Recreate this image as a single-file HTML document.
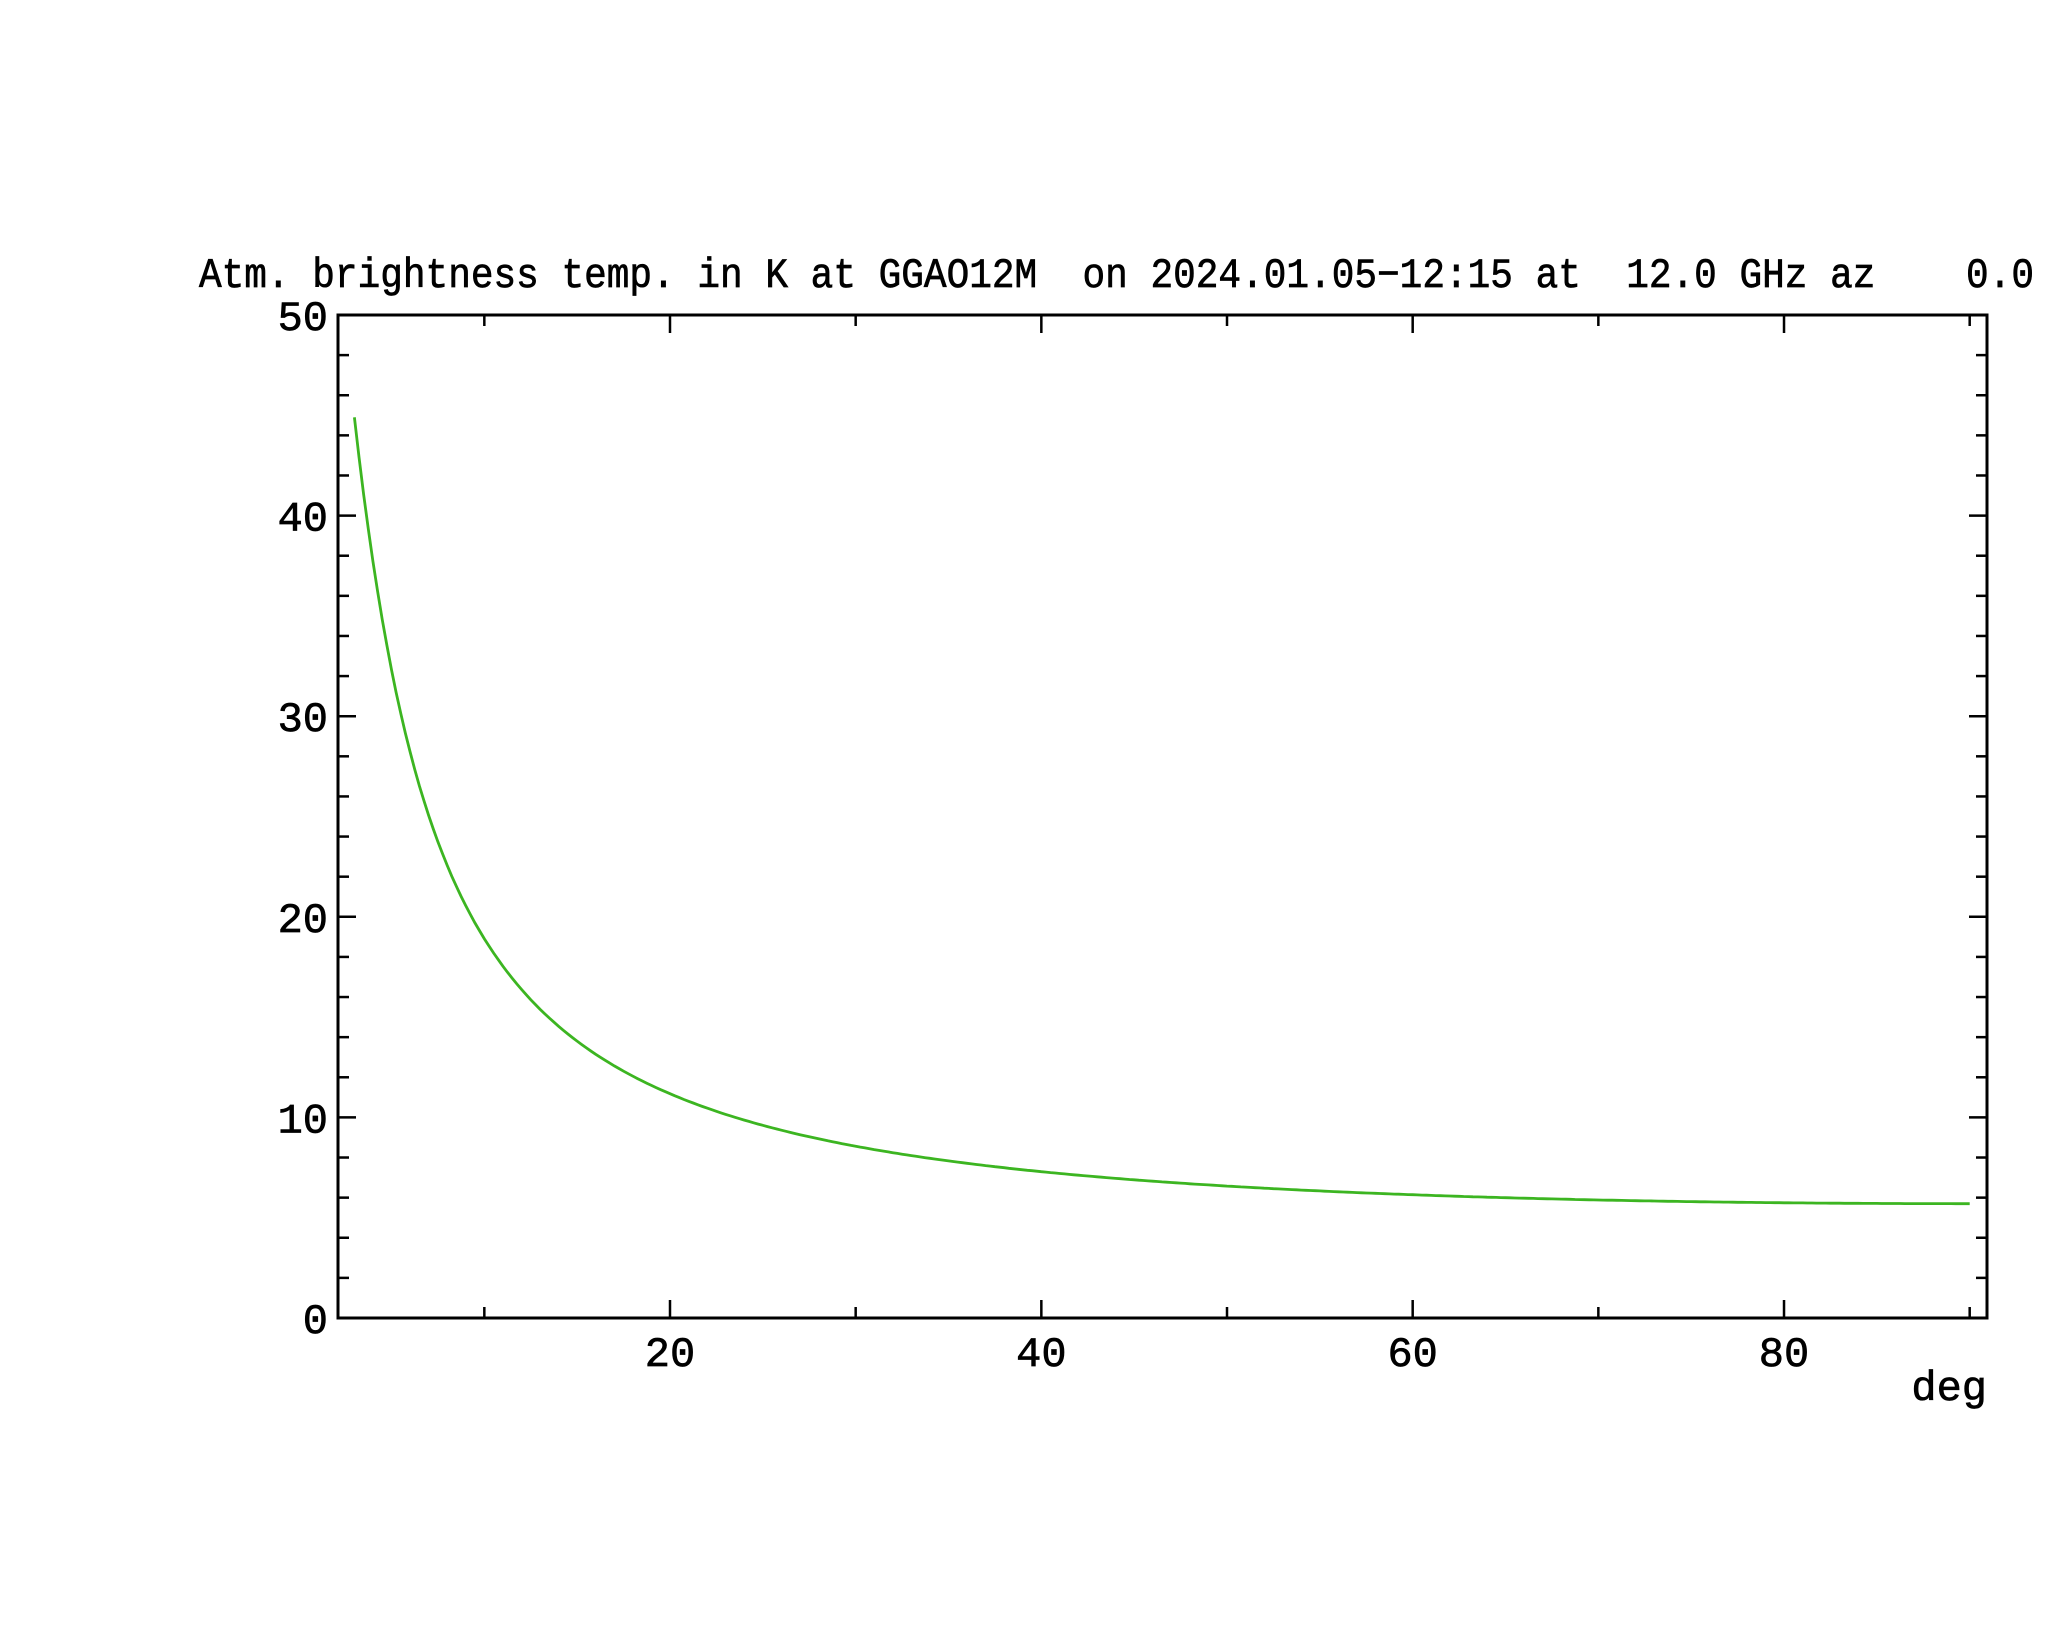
<!DOCTYPE html>
<html><head><meta charset="utf-8"><style>
html,body{margin:0;padding:0;background:#fff}
svg{display:block}
text{font-family:"Liberation Mono","DejaVu Sans Mono",monospace;fill:#000;stroke:#000;stroke-width:0.7px;white-space:pre}
</style></head><body>
<svg id="s" width="2048" height="1635" viewBox="0 0 2048 1635" xmlns="http://www.w3.org/2000/svg" xml:space="preserve">
<text x="199" y="287" font-size="42" textLength="1835" lengthAdjust="spacingAndGlyphs" xml:space="preserve">Atm. brightness temp. in K at GGAO12M  on 2024.01.05−12:15 at  12.0 GHz az    0.0</text>
<rect x="338" y="315" width="1649" height="1003" fill="none" stroke="#000" stroke-width="3"/>
<g id="ticks" stroke="#000" stroke-width="2.5"></g>
<g id="labels" font-size="42"></g>
<path id="curve" fill="none" stroke="#3cb521" stroke-width="2.8"/>
<text x="1987" y="1400" font-size="42" text-anchor="end">deg</text>
</svg>
<script>
var X=function(d){return 670+(d-20)*18.567;};
var Y=function(v){return 1318-v*20.06;};
var t=document.getElementById('ticks'),l=document.getElementById('labels'),ns='http://www.w3.org/2000/svg';
function ln(x1,y1,x2,y2){var e=document.createElementNS(ns,'line');e.setAttribute('x1',x1);e.setAttribute('y1',y1);e.setAttribute('x2',x2);e.setAttribute('y2',y2);t.appendChild(e);}
function tx(x,y,s,a){var e=document.createElementNS(ns,'text');e.setAttribute('x',x);e.setAttribute('y',y);e.setAttribute('text-anchor',a);e.textContent=s;l.appendChild(e);}
for(var d=10;d<=90;d+=10){var x=X(d),L=(d%20==0)?18:11;ln(x,1318,x,1318-L);ln(x,315,x,315+L);if(d%20==0)tx(x,1366,String(d),'middle');}
for(var v=0;v<=50;v+=2){var y=Y(v),L=(v%10==0)?18:11;ln(338,y,338+L,y);ln(1987,y,1987-L,y);if(v%10==0)tx(328,y+15,String(v),'end');}
var p='';for(var e=3;e<=90.001;e+=0.25){var s=Math.sin(e*Math.PI/180);var m=1/Math.sqrt(s*s+0.00195*(1-s*s));var T=2.82+2.88*m;p+=(p?'L':'M')+X(e).toFixed(1)+' '+Y(T).toFixed(1);}
document.getElementById('curve').setAttribute('d',p);
</script>
</body></html>
